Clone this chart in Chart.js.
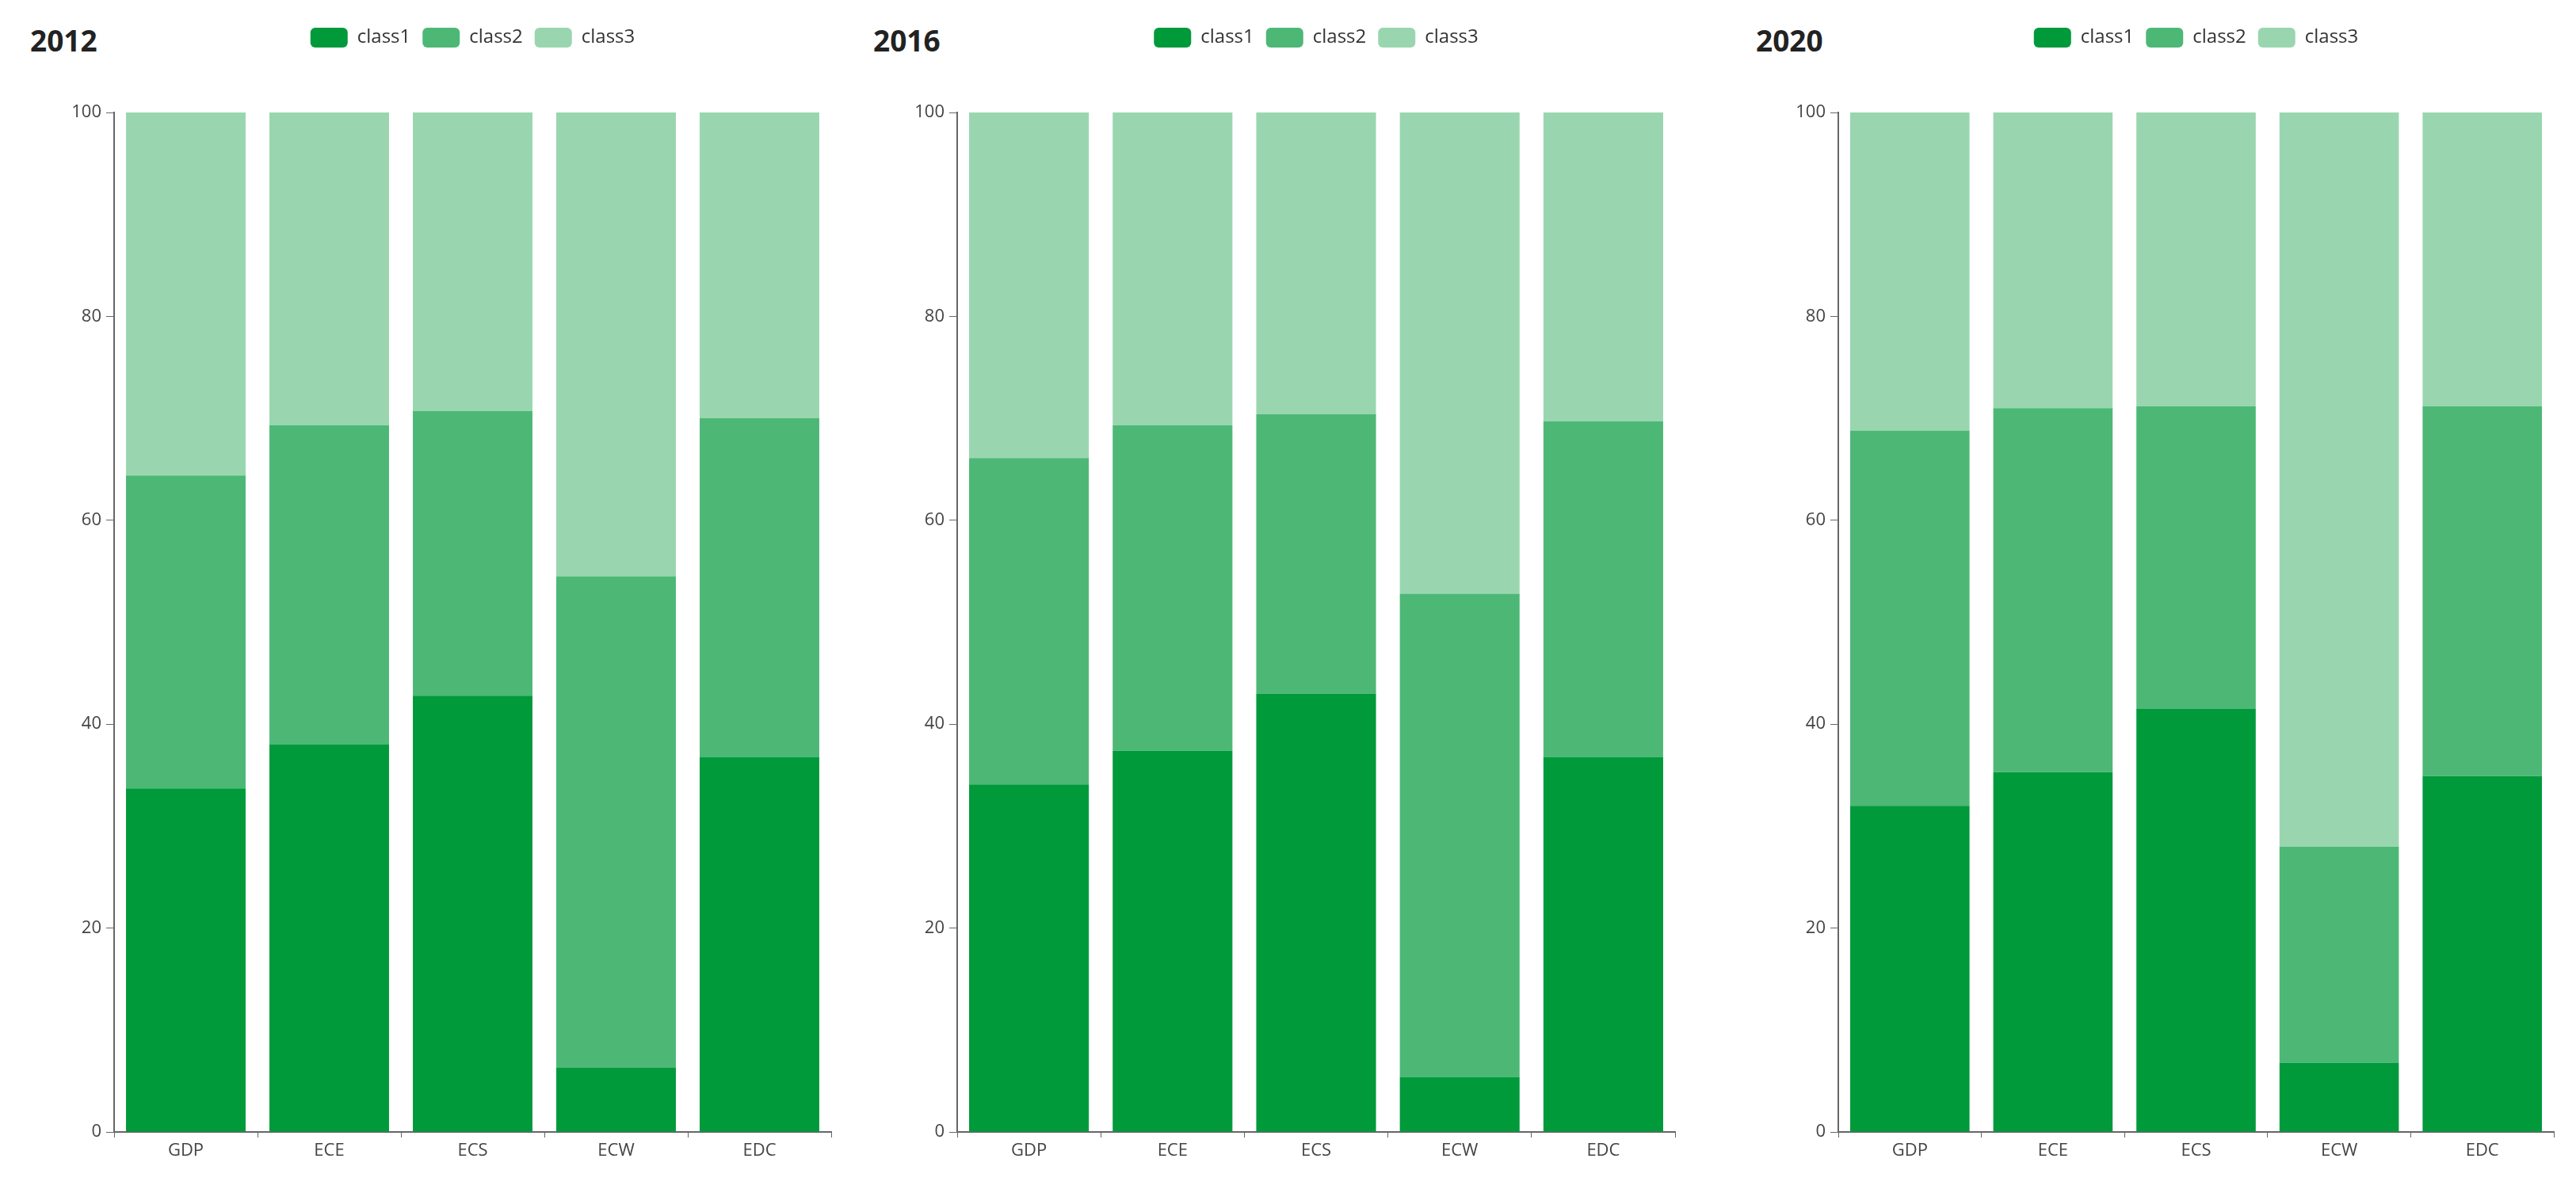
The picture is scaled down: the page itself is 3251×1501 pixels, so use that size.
<!DOCTYPE html>
<html>
<head>
<meta charset="utf-8">
<script src="https://cdn.jsdelivr.net/npm/chart.js@4.4.1/dist/chart.umd.min.js"></script>
<style>
  html, body { margin: 0; padding: 0; background: #fff; }
  #wrap { position: relative; width: 3251px; height: 1501px; overflow: hidden; }
  canvas { position: absolute; top: 0; }
  .title { position: absolute; top: 27px; font: bold 37px "Open Sans", sans-serif; color: #222; line-height: 48px; }
</style>
</head>
<body>
<div id="wrap">
  <div class="title" style="left:38px">2012</div>
  <div class="title" style="left:1102px">2016</div>
  <div class="title" style="left:2216px">2020</div>
  <canvas id="c2012" width="1080" height="1501" style="left:0px"></canvas>
  <canvas id="c2016" width="1070" height="1501" style="left:1080px"></canvas>
  <canvas id="c2020" width="1101" height="1501" style="left:2150px"></canvas>
</div>
<script>
// categories and series (percent shares, stacked to 100)
const categories = ['GDP', 'ECE', 'ECS', 'ECW', 'EDC'];
const seriesNames = ['class1', 'class2', 'class3'];
const yTicks = [0, 20, 40, 60, 80, 100];

const class1_2012 = [33.7, 38.0, 42.8, 6.3, 36.8];
const class2_2012 = [30.7, 31.3, 27.9, 48.2, 33.2];
const class3_2012 = [35.6, 30.7, 29.3, 45.5, 30.0];

const class1_2016 = [34.1, 37.4, 43.0, 5.4, 36.8];
const class2_2016 = [32.0, 31.9, 27.4, 47.4, 32.9];
const class3_2016 = [33.9, 30.7, 29.6, 47.2, 30.3];

const class1_2020 = [32.0, 35.3, 41.5, 6.8, 34.9];
const class2_2020 = [36.8, 35.7, 29.7, 21.2, 36.3];
const class3_2020 = [31.2, 29.0, 28.8, 72.0, 28.8];

const colors = ['#009a3b', '#4db876', '#99d6b0'];
const axisColor = '#666';
const fontFamily = '"Open Sans", sans-serif';

function makeChart(id, data, yWidth, padRight) {
  const ctx = document.getElementById(id).getContext('2d');
  // push the plot area down below the legend row
  const legendHeight = {
    id: 'legendHeight',
    beforeInit(chart) {
      const fit = chart.legend.fit;
      chart.legend.fit = function () {
        fit.call(this);
        this.height = 122;
      };
    }
  };
  return new Chart(ctx, {
    type: 'bar',
    data: {
      labels: categories,
      datasets: data.map((values, i) => ({
        label: seriesNames[i],
        data: values,
        backgroundColor: colors[i],
        borderWidth: 0,
        categoryPercentage: 1.0,
        barPercentage: 0.834
      }))
    },
    options: {
      responsive: false,
      animation: false,
      devicePixelRatio: 1,
      layout: { padding: { top: 20, left: 0, right: padRight, bottom: 0 } },
      scales: {
        x: {
          stacked: true,
          grid: { display: true, drawOnChartArea: false, tickLength: 7, color: axisColor, tickColor: axisColor, offset: true },
          border: { display: true, color: axisColor, width: 2 },
          ticks: { color: '#444', font: { family: fontFamily, size: 22 }, padding: 4 },
          afterFit(scale) { scale.height = 72; }
        },
        y: {
          stacked: true,
          min: yTicks[0],
          max: yTicks[yTicks.length - 1],
          grid: { display: true, drawOnChartArea: false, tickLength: 10, color: axisColor, tickColor: axisColor },
          border: { display: true, color: axisColor, width: 2 },
          ticks: { stepSize: yTicks[1] - yTicks[0], color: '#444', font: { family: fontFamily, size: 22 }, padding: 6 },
          afterFit(scale) { scale.width = yWidth; }
        }
      },
      plugins: {
        legend: {
          position: 'top',
          fullSize: false,
          labels: {
            boxWidth: 47,
            boxHeight: 25,
            padding: 15,
            color: '#333',
            font: { family: fontFamily, size: 24 },
            useBorderRadius: true,
            borderRadius: 6
          }
        },
        tooltip: { enabled: false }
      }
    },
    plugins: [legendHeight]
  });
}

makeChart('c2012', [class1_2012, class2_2012, class3_2012], 144, 31);
makeChart('c2016', [class1_2016, class2_2016, class3_2016], 128, 36);
makeChart('c2020', [class1_2020, class2_2020, class3_2020], 170, 28);
</script>
</body>
</html>
